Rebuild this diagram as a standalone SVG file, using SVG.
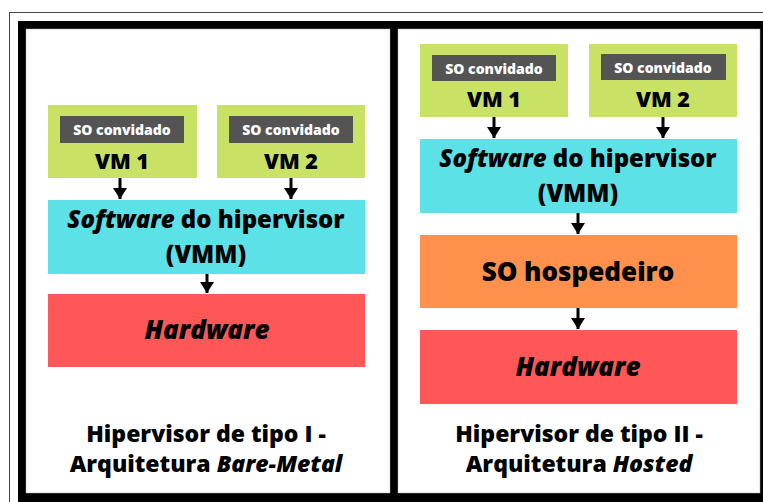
<svg xmlns="http://www.w3.org/2000/svg" width="763" height="502" viewBox="0 0 763 502">
<style>
text{font-family:"Open Sans","Noto Sans","DejaVu Sans",sans-serif;font-weight:800;text-anchor:middle;fill:#000}
.lbl{fill:#fff;font-size:14px}
.vm{font-size:21.5px}
.big{font-size:24px}
.hw{font-size:26px;font-style:italic}
.cap{font-size:23px}
.it{font-style:italic}
.vmbox{fill:#c9e265}
.tag{fill:#545454}
.cyan{fill:#5ce1e6}
.orange{fill:#ff914d}
.red{fill:#ff5757}
.arr{stroke:#000;stroke-width:3;fill:none}
</style>
<defs>
<marker id="ah" markerUnits="userSpaceOnUse" markerWidth="11" markerHeight="14" refX="11" refY="7" orient="auto" viewBox="0 0 11 14">
<path d="M0,0 L11,7 L0,14 Z" fill="#000"/>
</marker>
</defs>
<rect x="0" y="0" width="763" height="502" fill="#fff"/>
<rect x="9.5" y="12.5" width="800" height="600" fill="none" stroke="#444" stroke-width="1"/>
<rect x="18" y="21" width="745" height="481" fill="#000"/>
<rect x="26" y="29" width="364" height="464" fill="#fff" stroke="#aaa" stroke-width="0.5"/>
<rect x="398" y="29" width="362" height="464" fill="#fff" stroke="#aaa" stroke-width="0.5"/>

<g id="left-vm1">
<rect class="vmbox" x="48" y="105" width="149" height="73"/>
<rect class="tag" x="60" y="116" width="124" height="27"/>
<text class="lbl" x="122" y="135">SO convidado</text>
<text class="vm" x="122" y="169">VM 1</text>
</g>
<g id="left-vm2">
<rect class="vmbox" x="217" y="105" width="148" height="73"/>
<rect class="tag" x="229" y="116" width="124" height="27"/>
<text class="lbl" x="291" y="135">SO convidado</text>
<text class="vm" x="291" y="169">VM 2</text>
</g>
<g id="left-vmm">
<rect class="cyan" x="48" y="200" width="317" height="74"/>
<text class="big" x="206" y="228"><tspan class="it">Software</tspan> do hipervisor<tspan x="206" dy="35">(VMM)</tspan></text>
</g>
<g id="left-hw">
<rect class="red" x="48" y="294" width="317" height="73"/>
<text class="hw" x="207" y="339">Hardware</text>
</g>
<g id="left-caption">
<text class="cap" x="206" y="442">Hipervisor de tipo I -<tspan x="206" dy="30">Arquitetura </tspan><tspan class="it">Bare-Metal</tspan></text>
</g>

<g id="right-vm1">
<rect class="vmbox" x="420" y="44" width="148" height="73"/>
<rect class="tag" x="432" y="55" width="124" height="26"/>
<text class="lbl" x="494" y="74">SO convidado</text>
<text class="vm" x="494" y="107">VM 1</text>
</g>
<g id="right-vm2">
<rect class="vmbox" x="589" y="44" width="148" height="73"/>
<rect class="tag" x="601" y="54" width="125" height="26"/>
<text class="lbl" x="663" y="73">SO convidado</text>
<text class="vm" x="663" y="107">VM 2</text>
</g>
<g id="right-vmm">
<rect class="cyan" x="420" y="139" width="317" height="74"/>
<text class="big" x="578" y="167"><tspan class="it">Software</tspan> do hipervisor<tspan x="578" dy="35">(VMM)</tspan></text>
</g>
<g id="right-host">
<rect class="orange" x="420" y="235" width="317" height="73"/>
<text class="big" x="578" y="281" style="font-size:26px">SO hospedeiro</text>
</g>
<g id="right-hw">
<rect class="red" x="420" y="330" width="317" height="74"/>
<text class="hw" x="578" y="376">Hardware</text>
</g>
<g id="right-caption">
<text class="cap" x="579" y="442">Hipervisor de tipo II -<tspan x="579" dy="30">Arquitetura </tspan><tspan class="it">Hosted</tspan></text>
</g>

<g id="connectors">
<line class="arr" x1="120" y1="178" x2="120" y2="199" marker-end="url(#ah)"/>
<line class="arr" x1="291" y1="178" x2="291" y2="199" marker-end="url(#ah)"/>
<line class="arr" x1="207" y1="274" x2="207" y2="293" marker-end="url(#ah)"/>
<line class="arr" x1="494" y1="117" x2="494" y2="138" marker-end="url(#ah)"/>
<line class="arr" x1="663" y1="117" x2="663" y2="138" marker-end="url(#ah)"/>
<line class="arr" x1="578" y1="213" x2="578" y2="234" marker-end="url(#ah)"/>
<line class="arr" x1="578" y1="308" x2="578" y2="329" marker-end="url(#ah)"/>
</g>
</svg>
